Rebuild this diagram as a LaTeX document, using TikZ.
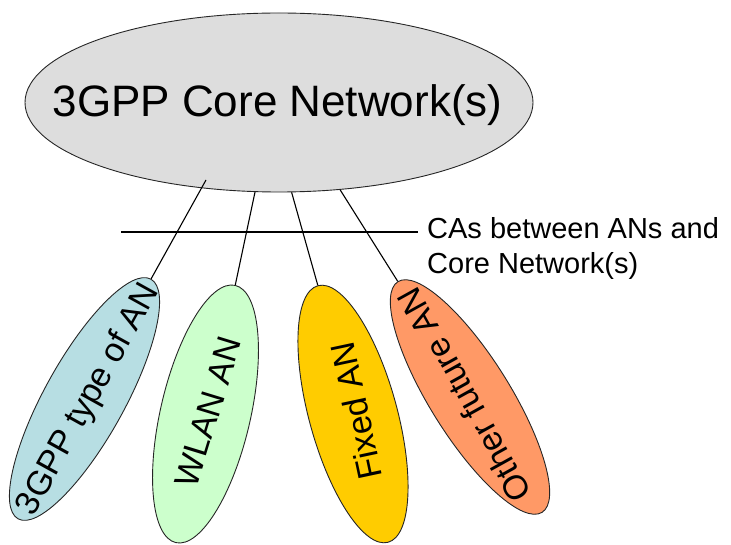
\documentclass[tikz,border=0pt]{standalone}
\usepackage{fontspec}
\setmainfont{Liberation Sans}
\usetikzlibrary{shapes.geometric,calc}
\definecolor{coregray}{HTML}{DDDDDD}
\definecolor{anblue}{HTML}{B7DEE3}
\definecolor{angreen}{HTML}{CCFFCC}
\definecolor{anyellow}{HTML}{FFCC00}
\definecolor{anorange}{HTML}{FF9966}
\begin{document}
\begin{tikzpicture}[x=1pt,y=1pt,
  oval/.style={ellipse, draw=black!85, line width=0.9pt, inner sep=0pt},
  anlabel/.style={font=\fontsize{34}{34}\selectfont, inner sep=0pt},
  link/.style={draw=black, line width=1.1pt}]
\useasboundingbox (0,0) rectangle (731,-545);
% core network
\node[oval, fill=coregray, minimum width=508pt, minimum height=179pt] (core) at (279,-102.5) {};
\node[font=\fontsize{44}{44}\selectfont, anchor=base, inner sep=0pt] (coretext) at (277.5,-117) {3GPP Core Network(s)};
% access networks
\node[oval, fill=anblue, minimum width=274pt, minimum height=80pt, rotate=61] (an1) at (84.5,-399) {};
\node[anlabel, rotate=61] (t1) at (89,-400) {3GPP type of AN};
\node[oval, fill=angreen, minimum width=264pt, minimum height=90pt, rotate=77] (an2) at (205.5,-414) {};
\node[anlabel, rotate=73] (t2) at (208,-412) {WLAN AN};
\node[oval, fill=anyellow, minimum width=266pt, minimum height=88pt, rotate=105.3] (an3) at (353,-414) {};
\node[anlabel, rotate=102] (t3) at (356,-411) {Fixed AN};
\node[oval, fill=anorange, minimum width=272pt, minimum height=80pt, rotate=122] (an4) at (470,-397) {};
\node[anlabel, rotate=119] (t4) at (464,-395) {Other future AN};
% connectors
\coordinate (c1) at (206,-180);
\draw[link] (c1) -- (an1.east);
\draw[link] (core.255) -- (an2.east);
\draw[link] (core.278) -- (an3.east);
\draw[link] (core.305) -- (an4.east);
% reference point label
\node[font=\fontsize{29}{35}\selectfont, align=left, anchor=north west, inner xsep=9pt, inner ysep=0pt] (lbl) at (418,-217.5) {CAs between ANs and\\Core Network(s)};
\coordinate (caL) at (121,-232);
\draw[link] (caL) -- (caL -| lbl.west);
\end{tikzpicture}
\end{document}
